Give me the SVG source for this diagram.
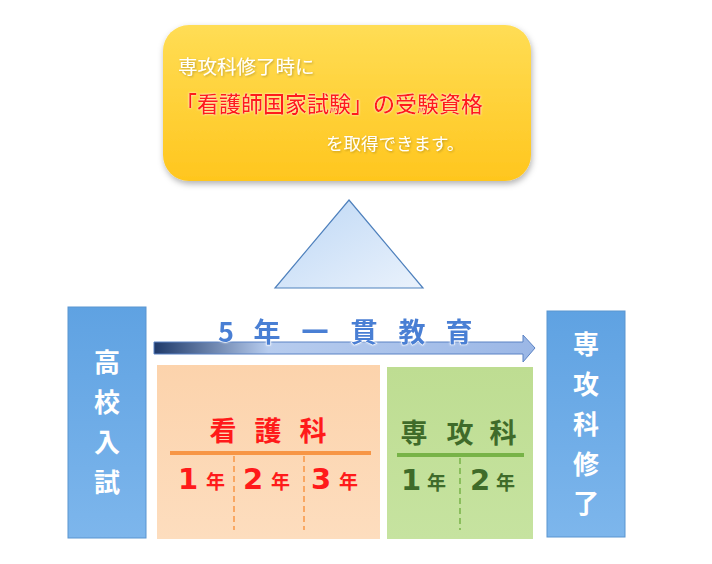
<svg xmlns="http://www.w3.org/2000/svg" width="712" height="564" viewBox="0 0 712 564">
<defs>
<linearGradient id="gYellow" x1="0" y1="0" x2="0" y2="1"><stop offset="0" stop-color="#FFDD55"/><stop offset="1" stop-color="#FFC61E"/></linearGradient>
<linearGradient id="gTri" x1="0" y1="0" x2="1" y2="1"><stop offset="0" stop-color="#BDD7F5"/><stop offset="1" stop-color="#EAF2FC"/></linearGradient>
<linearGradient id="gBlue" x1="0" y1="0" x2="0" y2="1"><stop offset="0" stop-color="#5FA2E2"/><stop offset="1" stop-color="#7DB6EC"/></linearGradient>
<linearGradient id="gArrow" x1="0" y1="0" x2="1" y2="0"><stop offset="0" stop-color="#1F3A6A"/><stop offset="0.3" stop-color="#B7CCEE"/><stop offset="1" stop-color="#9BB7E6"/></linearGradient>
<linearGradient id="gOrange" x1="0" y1="0" x2="0" y2="1"><stop offset="0" stop-color="#FCD3AC"/><stop offset="1" stop-color="#FDDDBE"/></linearGradient>
<linearGradient id="gGreen" x1="0" y1="0" x2="0" y2="1"><stop offset="0" stop-color="#BEDD92"/><stop offset="1" stop-color="#C6E3A0"/></linearGradient>
<filter id="sh" x="-10%" y="-10%" width="125%" height="130%"><feDropShadow dx="1" dy="3" stdDeviation="3" flood-color="#000" flood-opacity="0.3"/></filter>
<filter id="glow" x="-5%" y="-20%" width="110%" height="140%"><feDropShadow dx="0" dy="0" stdDeviation="1.2" flood-color="#fff" flood-opacity="0.9"/></filter>
<filter id="tsh" x="-5%" y="-20%" width="110%" height="150%"><feDropShadow dx="1" dy="1" stdDeviation="1" flood-color="#000" flood-opacity="0.25"/></filter>
</defs>
<style>
.jp{font-family:"Noto Sans CJK JP","Noto Sans",sans-serif}
.wt{fill:#fff}
.vt{font-family:"Noto Sans CJK JP",sans-serif;font-weight:bold;font-size:26px;fill:#fff;text-anchor:middle}
.hd{font-family:"Noto Sans CJK JP",sans-serif;font-weight:bold;font-size:27px;text-anchor:middle}
.num{font-family:"DejaVu Sans","Noto Sans",sans-serif;font-weight:bold;font-size:29px}
.nen{font-family:"Noto Sans CJK JP",sans-serif;font-weight:bold;font-size:19px}
.blue{fill:url(#gBlue);stroke:#5B95D0;stroke-width:1}
</style>
<rect width="712" height="564" fill="#fff"/>
<g id="message">
<rect x="163" y="25" width="368" height="156" rx="26" fill="url(#gYellow)" filter="url(#sh)"/>
<text class="jp wt" x="178" y="74" font-size="19.5" filter="url(#tsh)">専攻科修了時に</text>
<text class="jp" x="175" y="112" font-size="22" font-weight="500" fill="#FF1A1A" filter="url(#glow)">「看護師国家試験」の受験資格</text>
<text class="jp wt" x="326" y="150" font-size="17.5" filter="url(#tsh)">を取得できます。</text>
</g>
<g id="triangle">
<polygon points="349,200 423,288 275,288" fill="url(#gTri)" stroke="#4F81BD" stroke-width="1.2"/>
</g>
<g id="entrance">
<rect class="blue" x="68" y="307" width="78" height="231"/>
<text class="vt" x="107" y="372">高</text>
<text class="vt" x="107" y="412">校</text>
<text class="vt" x="107" y="452">入</text>
<text class="vt" x="107" y="492">試</text>
</g>
<g id="completion">
<rect class="blue" x="547" y="311" width="78" height="226"/>
<text class="vt" x="586" y="354">専</text>
<text class="vt" x="586" y="394">攻</text>
<text class="vt" x="586" y="434">科</text>
<text class="vt" x="586" y="474">修</text>
<text class="vt" x="586" y="513">了</text>
</g>
<g id="connectors">
<path d="M154,342 L523,342 L523,335 L535,348 L523,362 L523,354 L154,354 Z" fill="url(#gArrow)" stroke="#5A82C4" stroke-width="1"/>
<g class="jp" font-size="27" font-weight="bold" fill="#4A7FD4" stroke="#fff" stroke-width="1" paint-order="stroke" text-anchor="middle" filter="url(#glow)">
<text x="226" y="342">5</text>
<text x="267" y="342">年</text>
<text x="315" y="342">一</text>
<text x="364" y="342">貫</text>
<text x="412" y="342">教</text>
<text x="459" y="342">育</text>
</g>
</g>
<g id="nursing">
<rect x="157" y="365" width="223" height="174" fill="url(#gOrange)"/>
<text class="hd" x="223" y="441" fill="#FF1A1A">看</text>
<text class="hd" x="268" y="441" fill="#FF1A1A">護</text>
<text class="hd" x="313" y="441" fill="#FF1A1A">科</text>
<line x1="170" y1="453" x2="371" y2="453" stroke="#F79646" stroke-width="4"/>
<line x1="234" y1="456" x2="234" y2="530" stroke="#F79646" stroke-width="1.5" stroke-dasharray="6,4"/>
<line x1="304" y1="456" x2="304" y2="530" stroke="#F79646" stroke-width="1.5" stroke-dasharray="6,4"/>
<g fill="#FF1A1A">
<text class="num" x="178" y="489">1</text><text class="nen" x="206" y="489">年</text>
<text class="num" x="243" y="489">2</text><text class="nen" x="271" y="489">年</text>
<text class="num" x="311" y="489">3</text><text class="nen" x="339" y="489">年</text>
</g>
</g>
<g id="advanced">
<rect x="387" y="367" width="146" height="172" fill="url(#gGreen)"/>
<text class="hd" x="414" y="443" fill="#3F6B2A">専</text>
<text class="hd" x="460" y="443" fill="#3F6B2A">攻</text>
<text class="hd" x="503" y="443" fill="#3F6B2A">科</text>
<line x1="397" y1="455" x2="524" y2="455" stroke="#77B347" stroke-width="4"/>
<line x1="460" y1="458" x2="460" y2="530" stroke="#77B347" stroke-width="1.5" stroke-dasharray="6,4"/>
<g fill="#3F6B2A">
<text class="num" x="401" y="490">1</text><text class="nen" x="427" y="490">年</text>
<text class="num" x="470" y="490">2</text><text class="nen" x="496" y="490">年</text>
</g>
</g>
</svg>
